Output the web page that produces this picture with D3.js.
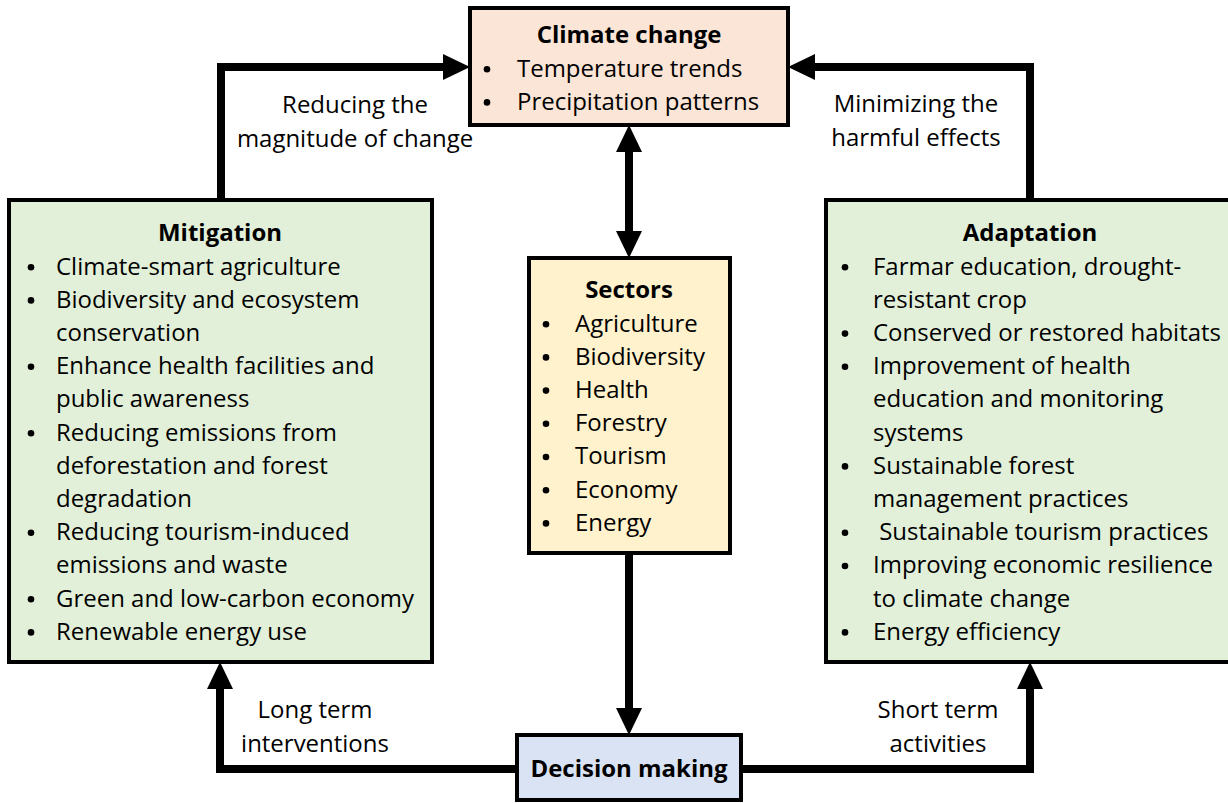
<!DOCTYPE html>
<html>
<head>
<meta charset="utf-8">
<script src="https://cdn.jsdelivr.net/npm/d3@7"></script>
<style>
  body { margin: 0; background: #fff; }
  svg { display: block; font-family: "Open Sans", "Noto Sans", sans-serif; }
</style>
</head>
<body>
<div id="chart"></div>
<script>
// box contents (each entry: [isBullet, text])
const climateTitle = "Climate change";
const climateItems = [[1, "Temperature trends"], [1, "Precipitation patterns"]];

const mitigationTitle = "Mitigation";
const mitigationItems = [
  [1, "Climate-smart agriculture"],
  [1, "Biodiversity and ecosystem"],
  [0, "conservation"],
  [1, "Enhance health facilities and"],
  [0, "public awareness"],
  [1, "Reducing emissions from"],
  [0, "deforestation and forest"],
  [0, "degradation"],
  [1, "Reducing tourism-induced"],
  [0, "emissions and waste"],
  [1, "Green and low-carbon economy"],
  [1, "Renewable energy use"]
];

const adaptationTitle = "Adaptation";
const adaptationItems = [
  [1, "Farmar education, drought-"],
  [0, "resistant crop"],
  [1, "Conserved or restored habitats"],
  [1, "Improvement of health"],
  [0, "education and monitoring"],
  [0, "systems"],
  [1, "Sustainable forest"],
  [0, "management practices"],
  [1, "\u00a0Sustainable tourism practices"],
  [1, "Improving economic resilience"],
  [0, "to climate change"],
  [1, "Energy efficiency"]
];

const sectorsTitle = "Sectors";
const sectorItems = ["Agriculture", "Biodiversity", "Health", "Forestry", "Tourism", "Economy", "Energy"]
  .map(s => [1, s]);

const decisionTitle = "Decision making";

const arrowLabels = [
  { lines: ["Reducing the", "magnitude of change"], x: 355, y: 105 },
  { lines: ["Minimizing the", "harmful effects"], x: 916, y: 104 },
  { lines: ["Long term", "interventions"], x: 315, y: 710 },
  { lines: ["Short term", "activities"], x: 938, y: 710 }
];

const W = 1228, H = 803;
const LH = 33.2;

const svg = d3.select("#chart").append("svg")
  .attr("width", W).attr("height", H);
svg.append("rect").attr("width", W).attr("height", H).attr("fill", "#fff");

// fit font size to the reference width of a known line
const probe = svg.append("text").attr("font-size", 20).text("Climate-smart agriculture");
const FS = 20 * 285 / probe.node().getComputedTextLength();
probe.remove();

// boxes
const boxes = [
  { x: 470, y: 8, w: 318, h: 117, fill: "#fbe5d6" },
  { x: 9, y: 200, w: 423, h: 462, fill: "#e2f0d9" },
  { x: 826, y: 200, w: 410, h: 462, fill: "#e2f0d9" },
  { x: 529, y: 258, w: 201, h: 295, fill: "#fff2cc" },
  { x: 517, y: 735, w: 224, h: 65, fill: "#dae3f3" }
];

// connectors (drawn below boxes)
const lineGen = d3.line();
const paths = [
  [[221, 200], [221, 67], [448, 67]],
  [[1030, 200], [1030, 67], [810, 67]],
  [[629, 145], [629, 238]],
  [[629, 553], [629, 713]],
  [[517, 769], [220, 769], [220, 684]],
  [[741, 769], [1030, 769], [1030, 684]]
];
svg.append("g").selectAll("path").data(paths).join("path")
  .attr("d", d => lineGen(d))
  .attr("fill", "none").attr("stroke", "#000")
  .attr("stroke-width", 8).attr("stroke-linejoin", "miter");

// arrowheads: tip point + direction
const heads = [
  { x: 470, y: 67, dir: "right" },
  { x: 788, y: 67, dir: "left" },
  { x: 629, y: 125, dir: "up" },
  { x: 629, y: 258, dir: "down" },
  { x: 629, y: 735, dir: "down" },
  { x: 220, y: 662, dir: "up" },
  { x: 1030, y: 662, dir: "up" }
];
const L = 27, Hw = 13;
function headPts(h) {
  const { x, y } = h;
  if (h.dir === "right") return [[x, y], [x - L, y - Hw], [x - L, y + Hw]];
  if (h.dir === "left") return [[x, y], [x + L, y - Hw], [x + L, y + Hw]];
  if (h.dir === "up") return [[x, y], [x - Hw, y + L], [x + Hw, y + L]];
  return [[x, y], [x - Hw, y - L], [x + Hw, y - L]];
}
svg.append("g").selectAll("path").data(heads).join("path")
  .attr("d", d => lineGen(headPts(d)) + "Z")
  .attr("fill", "#000");

svg.append("g").selectAll("rect").data(boxes).join("rect")
  .attr("x", d => d.x).attr("y", d => d.y)
  .attr("width", d => d.w).attr("height", d => d.h)
  .attr("fill", d => d.fill)
  .attr("stroke", "#000").attr("stroke-width", 4);

function drawBlock(title, items, cx, ty, bulletX, textX) {
  const g = svg.append("g").attr("font-size", FS).attr("fill", "#000");
  g.append("text").attr("x", cx).attr("y", ty).attr("dy", "0.35em")
    .attr("text-anchor", "middle").attr("font-weight", "bold").text(title);
  items.forEach((it, i) => {
    const y = ty + LH * (i + 1);
    if (it[0]) {
      g.append("circle").attr("cx", bulletX).attr("cy", y + 1).attr("r", 3.3);
    }
    g.append("text").attr("x", textX).attr("y", y).attr("dy", "0.35em")
      .attr("xml:space", "preserve").style("white-space", "pre").text(it[1]);
  });
}

drawBlock(climateTitle, climateItems, 629, 35, 487, 517);
drawBlock(mitigationTitle, mitigationItems, 220, 233, 31, 56);
drawBlock(adaptationTitle, adaptationItems, 1030, 233, 845, 873);
drawBlock(sectorsTitle, sectorItems, 629, 290, 546, 575);

svg.append("text").attr("x", 629).attr("y", 769).attr("dy", "0.35em")
  .attr("text-anchor", "middle").attr("font-weight", "bold")
  .attr("font-size", FS).text(decisionTitle);

const lab = svg.append("g").attr("font-size", FS).attr("text-anchor", "middle");
arrowLabels.forEach(l => {
  l.lines.forEach((t, i) => {
    lab.append("text").attr("x", l.x).attr("y", l.y + i * LH).attr("dy", "0.35em").text(t);
  });
});
</script>
</body>
</html>
